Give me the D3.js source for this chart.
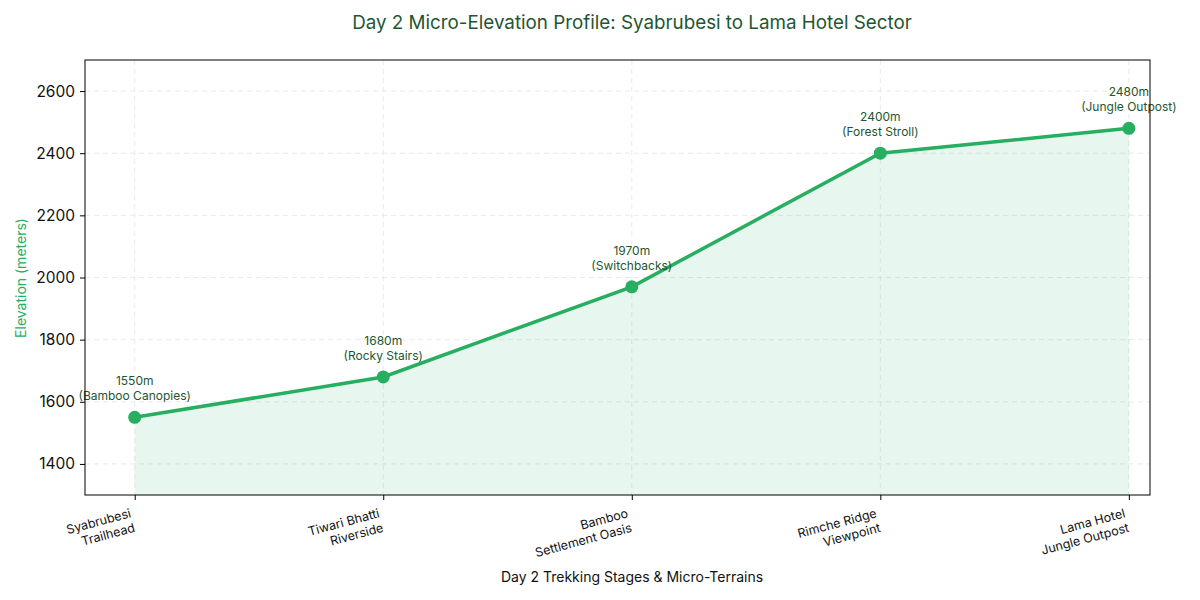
<!DOCTYPE html>
<html><head><meta charset="utf-8">
<script src="https://cdn.jsdelivr.net/npm/d3@7"></script>
<style>body{margin:0;background:#fff}svg{display:block}text{font-family:Inter,"Open Sans",sans-serif}</style>
</head><body><svg id="c" width="1200" height="600"></svg>
<script>
const stages = [["Syabrubesi","Trailhead"],["Tiwari Bhatti","Riverside"],["Bamboo","Settlement Oasis"],["Rimche Ridge","Viewpoint"],["Lama Hotel","Jungle Outpost"]];
const elevations = [1550,1680,1970,2400,2480];
const terrains = ["Bamboo Canopies","Rocky Stairs","Switchbacks","Forest Stroll","Jungle Outpost"];
const yTicks = [1400,1600,1800,2000,2200,2400,2600];

const svg = d3.select("#c");
const m = {l:85, r:1150, t:60, b:495};
const x = d3.scaleLinear().domain([-0.2, 4.085]).range([m.l, m.r]);
const y = d3.scaleLinear().domain([1300, 2700]).range([m.b, m.t]);
const idx = elevations.map((d,i)=>i);

// grid
const g = svg.append("g");
g.selectAll(".hg").data(yTicks).join("line")
 .attr("x1",m.l).attr("x2",m.r).attr("y1",d=>y(d)).attr("y2",d=>y(d))
 .attr("stroke","#e3e3e3").attr("stroke-dasharray","5,4").attr("stroke-width",0.8);
g.selectAll(".vg").data(idx).join("line")
 .attr("x1",d=>x(d)).attr("x2",d=>x(d)).attr("y1",m.t).attr("y2",m.b)
 .attr("stroke","#e3e3e3").attr("stroke-dasharray","5,4").attr("stroke-width",0.8);

// area
const area = d3.area().x((d,i)=>x(i)).y0(y(1300)).y1(d=>y(d));
svg.append("path").datum(elevations).attr("d",area).attr("fill","#27ae60").attr("fill-opacity",0.11);
const line = d3.line().x((d,i)=>x(i)).y(d=>y(d));
svg.append("path").datum(elevations).attr("d",line).attr("fill","none").attr("stroke","#27ae60").attr("stroke-width",3.5);
svg.selectAll(".pt").data(elevations).join("circle")
 .attr("cx",(d,i)=>x(i)).attr("cy",d=>y(d)).attr("r",6.5).attr("fill","#27ae60");

// annotations
const ann = svg.selectAll(".ann").data(elevations).join("text")
 .attr("text-anchor","middle").attr("font-size",12).attr("fill","#1e5631");
ann.append("tspan").attr("x",(d,i)=>x(i)).attr("y",d=>y(d)-32).text(d=>d+"m");
ann.append("tspan").attr("x",(d,i)=>x(i)).attr("y",d=>y(d)-17).text((d,i)=>"("+terrains[i]+")");

// frame
svg.append("rect").attr("x",m.l).attr("y",m.t).attr("width",m.r-m.l).attr("height",m.b-m.t)
 .attr("fill","none").attr("stroke","#000").attr("stroke-width",1);

// y axis
const ya = svg.append("g").attr("transform",`translate(${m.l},0)`)
 .call(d3.axisLeft(y).tickValues(yTicks).tickSize(5).tickPadding(5).tickFormat(d3.format("d")));
ya.select(".domain").remove();
ya.selectAll("text").attr("font-size",15.5).attr("fill","#111").style("font-family","Inter,sans-serif");

// x axis
const xa = svg.append("g").attr("transform",`translate(0,${m.b})`)
 .call(d3.axisBottom(x).tickValues(idx).tickSize(5).tickFormat(""));
xa.select(".domain").remove();
idx.forEach(i=>{
  const t = svg.append("text").attr("transform",`translate(${x(i)-3},${m.b+22}) rotate(-15)`)
   .attr("text-anchor","end").attr("font-size",12.5).attr("fill","#111");
  t.append("tspan").attr("x",0).attr("y",0).text(stages[i][0]);
  t.append("tspan").attr("x",0).attr("y",15).text(stages[i][1]);
});

svg.append("text").attr("x",632).attr("y",582).attr("text-anchor","middle").attr("font-size",14).attr("fill","#111")
 .text("Day 2 Trekking Stages & Micro-Terrains");
svg.append("text").attr("transform",`translate(26,278) rotate(-90)`).attr("text-anchor","middle").attr("font-size",14).attr("fill","#27ae60")
 .text("Elevation (meters)");
svg.append("text").attr("x",632).attr("y",29).attr("text-anchor","middle").attr("font-size",18.8).attr("fill","#1e5631")
 .text("Day 2 Micro-Elevation Profile: Syabrubesi to Lama Hotel Sector");
</script></body></html>
